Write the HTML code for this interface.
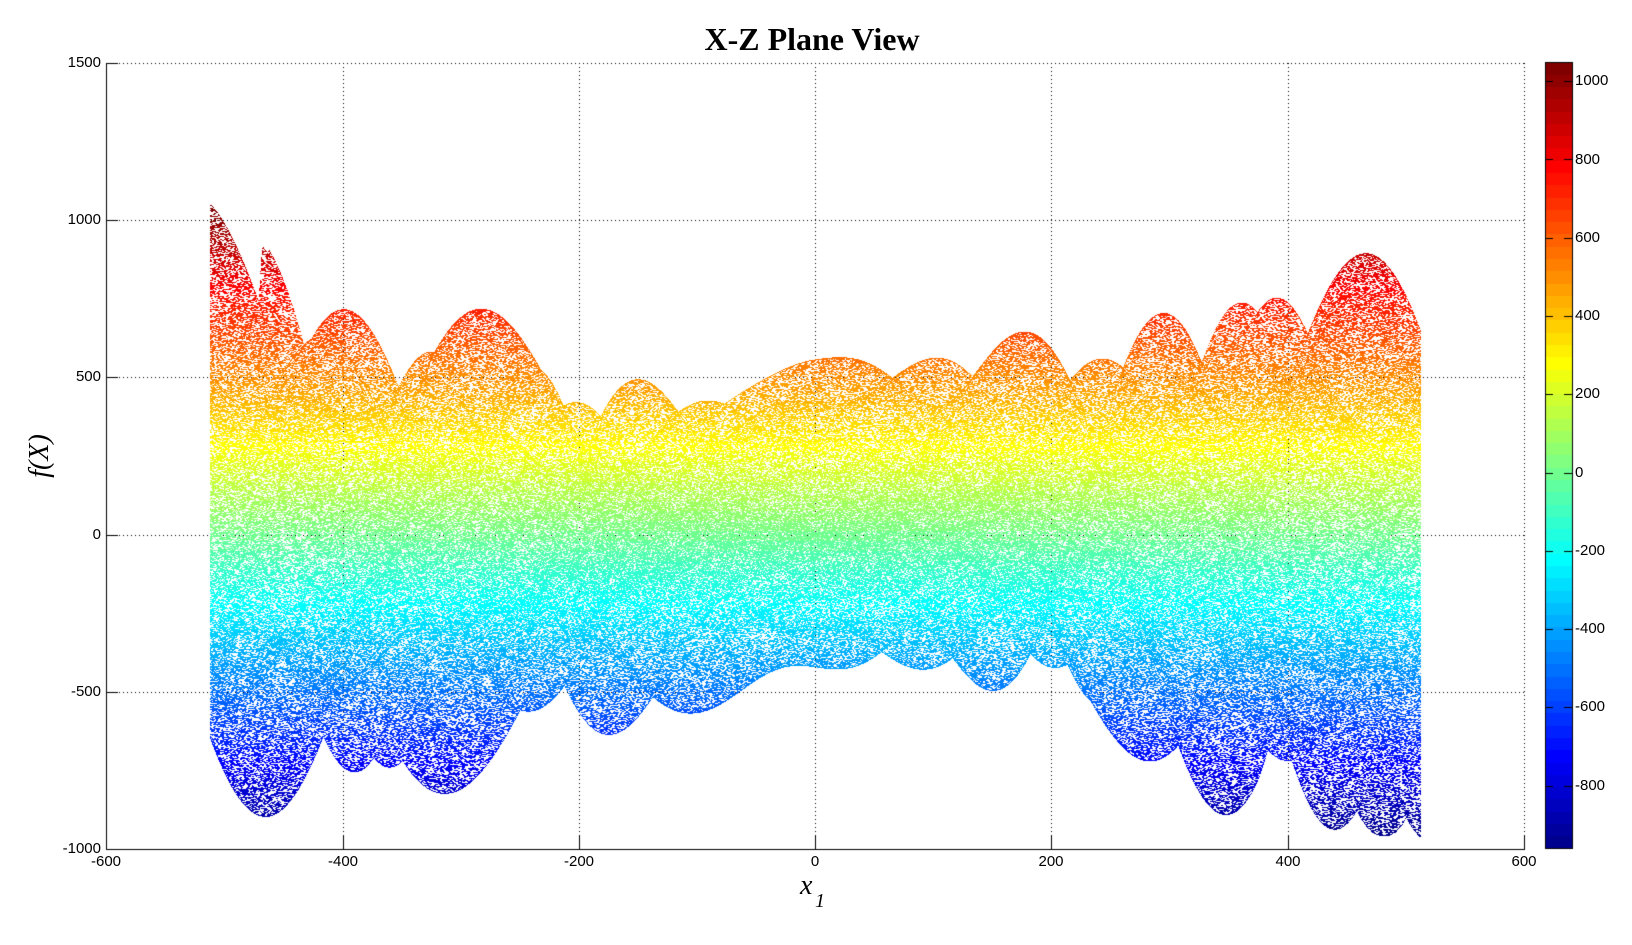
<!DOCTYPE html>
<html>
<head>
<meta charset="utf-8">
<style>
  html,body{margin:0;padding:0;background:#fff;}
  #wrap{position:relative;width:1632px;height:945px;overflow:hidden;background:#fff;}
  canvas{position:absolute;left:0;top:0;}
  .t{position:absolute;font-family:"Liberation Sans",Arial,sans-serif;font-size:15px;line-height:16px;color:#000;white-space:nowrap;}
  .yl{left:0;width:101px;text-align:right;}
  .xl{width:80px;text-align:center;}
  .cl{left:1575px;}
</style>
</head>
<body>
<div id="wrap">
<canvas id="c" width="1632" height="945"></canvas>

<div style="position:absolute;left:612px;top:21px;width:400px;text-align:center;font-family:'Liberation Serif','Times New Roman',serif;font-weight:bold;font-size:32px;line-height:36px;color:#000;">X-Z Plane View</div>

<!-- y tick labels -->
<div class="t yl" style="top:55px;">1500</div>
<div class="t yl" style="top:212px;">1000</div>
<div class="t yl" style="top:369px;">500</div>
<div class="t yl" style="top:527px;">0</div>
<div class="t yl" style="top:684px;">-500</div>
<div class="t yl" style="top:841px;">-1000</div>

<!-- x tick labels -->
<div class="t xl" style="left:66px;top:854px;">-600</div>
<div class="t xl" style="left:303px;top:854px;">-400</div>
<div class="t xl" style="left:539px;top:854px;">-200</div>
<div class="t xl" style="left:775px;top:854px;">0</div>
<div class="t xl" style="left:1011px;top:854px;">200</div>
<div class="t xl" style="left:1248px;top:854px;">400</div>
<div class="t xl" style="left:1484px;top:854px;">600</div>

<!-- colorbar labels -->
<div class="t cl" style="top:73px;">1000</div>
<div class="t cl" style="top:152px;">800</div>
<div class="t cl" style="top:230px;">600</div>
<div class="t cl" style="top:308px;">400</div>
<div class="t cl" style="top:386px;">200</div>
<div class="t cl" style="top:465px;">0</div>
<div class="t cl" style="top:543px;">-200</div>
<div class="t cl" style="top:621px;">-400</div>
<div class="t cl" style="top:699px;">-600</div>
<div class="t cl" style="top:778px;">-800</div>

<!-- axis labels -->
<div style="position:absolute;left:800px;top:872px;font-family:'Liberation Serif','Times New Roman',serif;font-style:italic;font-size:28px;line-height:28px;color:#000;">x</div>
<div style="position:absolute;left:815px;top:891px;font-family:'Liberation Serif','Times New Roman',serif;font-style:italic;font-size:20px;line-height:20px;color:#000;">1</div>
<div style="position:absolute;left:-10px;top:440px;width:100px;height:32px;text-align:center;font-family:'Liberation Serif','Times New Roman',serif;font-style:italic;font-size:28px;line-height:32px;color:#000;transform:rotate(-90deg);">f(X)</div>
</div>

<script>
(function(){
  var W=1632,Hh=945;
  var c=document.getElementById('c');
  var ctx=c.getContext('2d');
  ctx.fillStyle='#fff';
  ctx.fillRect(0,0,W,Hh);

  var L=106.4, SX=1.1813, SY=0.3144;
  function px(v){return L+(v+600)*SX;}
  function py(f){return 849-(f+1000)*SY;}
  function fy(Y){return (849-Y)/SY-1000;}

  // MATLAB jet(64)
  function jet(m){
    var n=Math.ceil(m/4), u=[], i;
    for(i=1;i<=n;i++)u.push(i/n);
    for(i=1;i<n;i++)u.push(1);
    for(i=n;i>=1;i--)u.push(i/n);
    var g0=Math.ceil(n/2)-((m%4)==1?1:0);
    var J=[];for(i=0;i<m;i++)J.push([0,0,0]);
    for(var j=0;j<u.length;j++){
      var g=g0+j+1, r=g+n, b=g-n;
      if(g>=1&&g<=m)J[g-1][1]=u[j];
      if(r>=1&&r<=m)J[r-1][0]=u[j];
      if(b>=1&&b<=m)J[b-1][2]=u[j];
    }
    return J.map(function(a){return [Math.round(a[0]*255),Math.round(a[1]*255),Math.round(a[2]*255)];});
  }
  var CM=jet(64);
  function css(a){return 'rgb('+a[0]+','+a[1]+','+a[2]+')';}
  var mn=-959.6407, mx=1049.1316;
  function cidx(f){var ci=Math.floor((f-mn)/(mx-mn)*64);if(ci>63)ci=63;if(ci<0)ci=0;return ci;}

  // grid (dotted)
  ctx.fillStyle='#000';
  [-400,-200,0,200,400,600].forEach(function(v){
    var X=Math.round(px(v));
    for(var y=63;y<849;y+=4)ctx.fillRect(X,y,1,1);
  });
  [1500,1000,500,0,-500].forEach(function(v){
    var Y=Math.round(py(v));
    for(var x=107;x<=1524;x+=4)ctx.fillRect(x,Y,1,1);
  });

  function egg(x,y){
    return -(y+47)*Math.sin(Math.sqrt(Math.abs(x/2+y+47)))-x*Math.sin(Math.sqrt(Math.abs(x-(y+47))));
  }
  function hash(a,b){
    var h=(a*374761393+b*668265263)|0;
    h=(h^(h>>>13))*1274126177|0;
    h=h^(h>>>16);
    return (h>>>0)/4294967296;
  }

  var img=ctx.getImageData(0,0,W,Hh);
  var d=img.data;
  function setp(X,Y){
    var col=CM[cidx(fy(Y))];
    var p=(Y*W+X)*4;
    d[p]=col[0];d[p+1]=col[1];d[p+2]=col[2];d[p+3]=255;
  }
  var X0=Math.round(px(-512)), X1=Math.round(px(512));
  for(var X=X0;X<=X1;X++){
    var lo=Infinity, hi=-Infinity;
    var xc=(X-L)/SX-600; if(xc<-512)xc=-512; if(xc>512)xc=512;
    for(var s=-1;s<=1;s++){
      var xx=((X+s*0.33)-L)/SX-600;
      if(xx<-512)xx=-512;if(xx>512)xx=512;
      for(var b=-512;b<=512;b+=1){
        var f=egg(xx,b);
        if(f<lo)lo=f;if(f>hi)hi=f;
      }
    }
    var Yt=Math.round(py(hi)), Yb=Math.round(py(lo));
    for(var Y=Yt;Y<=Yb;Y++){
      var on;
      if(Y<=Yt||Y>=Yb) on=true;
      else{
        var o=(Y*7)%3;
        var g=Math.floor((X+o)/2);
        on=hash(g,Y)<0.52;
      }
      if(on) setp(X,Y);
    }
    // sparse sampled overlay (creates caustic structure)
    for(var b2=-512+(X%8);b2<=512;b2+=8){
      var f2=egg(xc,b2);
      var Y2=Math.round(py(f2));
      if(Y2>=Yt&&Y2<=Yb) setp(X,Y2);
    }
  }
  ctx.putImageData(img,0,0);

  // axes
  ctx.fillStyle='#000';
  ctx.fillRect(106,63,1,787);
  ctx.fillRect(106,849,1419,1);
  [1500,1000,500,0,-500,-1000].forEach(function(v){
    ctx.fillRect(106,Math.round(py(v)),12,1);
  });
  [-600,-400,-200,0,200,400,600].forEach(function(v){
    ctx.fillRect(Math.round(px(v)),835,1,15);
  });

  // colorbar
  var cbT=62, cbB=848, cbL=1545, cbR=1572, H=cbB-cbT;
  for(var k=0;k<64;k++){
    var y1=cbB-(k+1)*H/64, y2=cbB-k*H/64;
    ctx.fillStyle=css(CM[k]);
    ctx.fillRect(cbL,Math.floor(y1),cbR-cbL,Math.ceil(y2)-Math.floor(y1));
  }
  ctx.strokeStyle='#000';ctx.lineWidth=1;
  ctx.strokeRect(cbL+0.5,cbT+0.5,cbR-cbL,H);
  ctx.fillStyle='#000';
  [1000,800,600,400,200,0,-200,-400,-600,-800].forEach(function(v){
    var Y=Math.round(cbB-(v-mn)/(mx-mn)*H);
    ctx.fillRect(cbL,Y,8,1);
    ctx.fillRect(cbR-8,Y,8,1);
  });
})();
</script>
</body>
</html>
